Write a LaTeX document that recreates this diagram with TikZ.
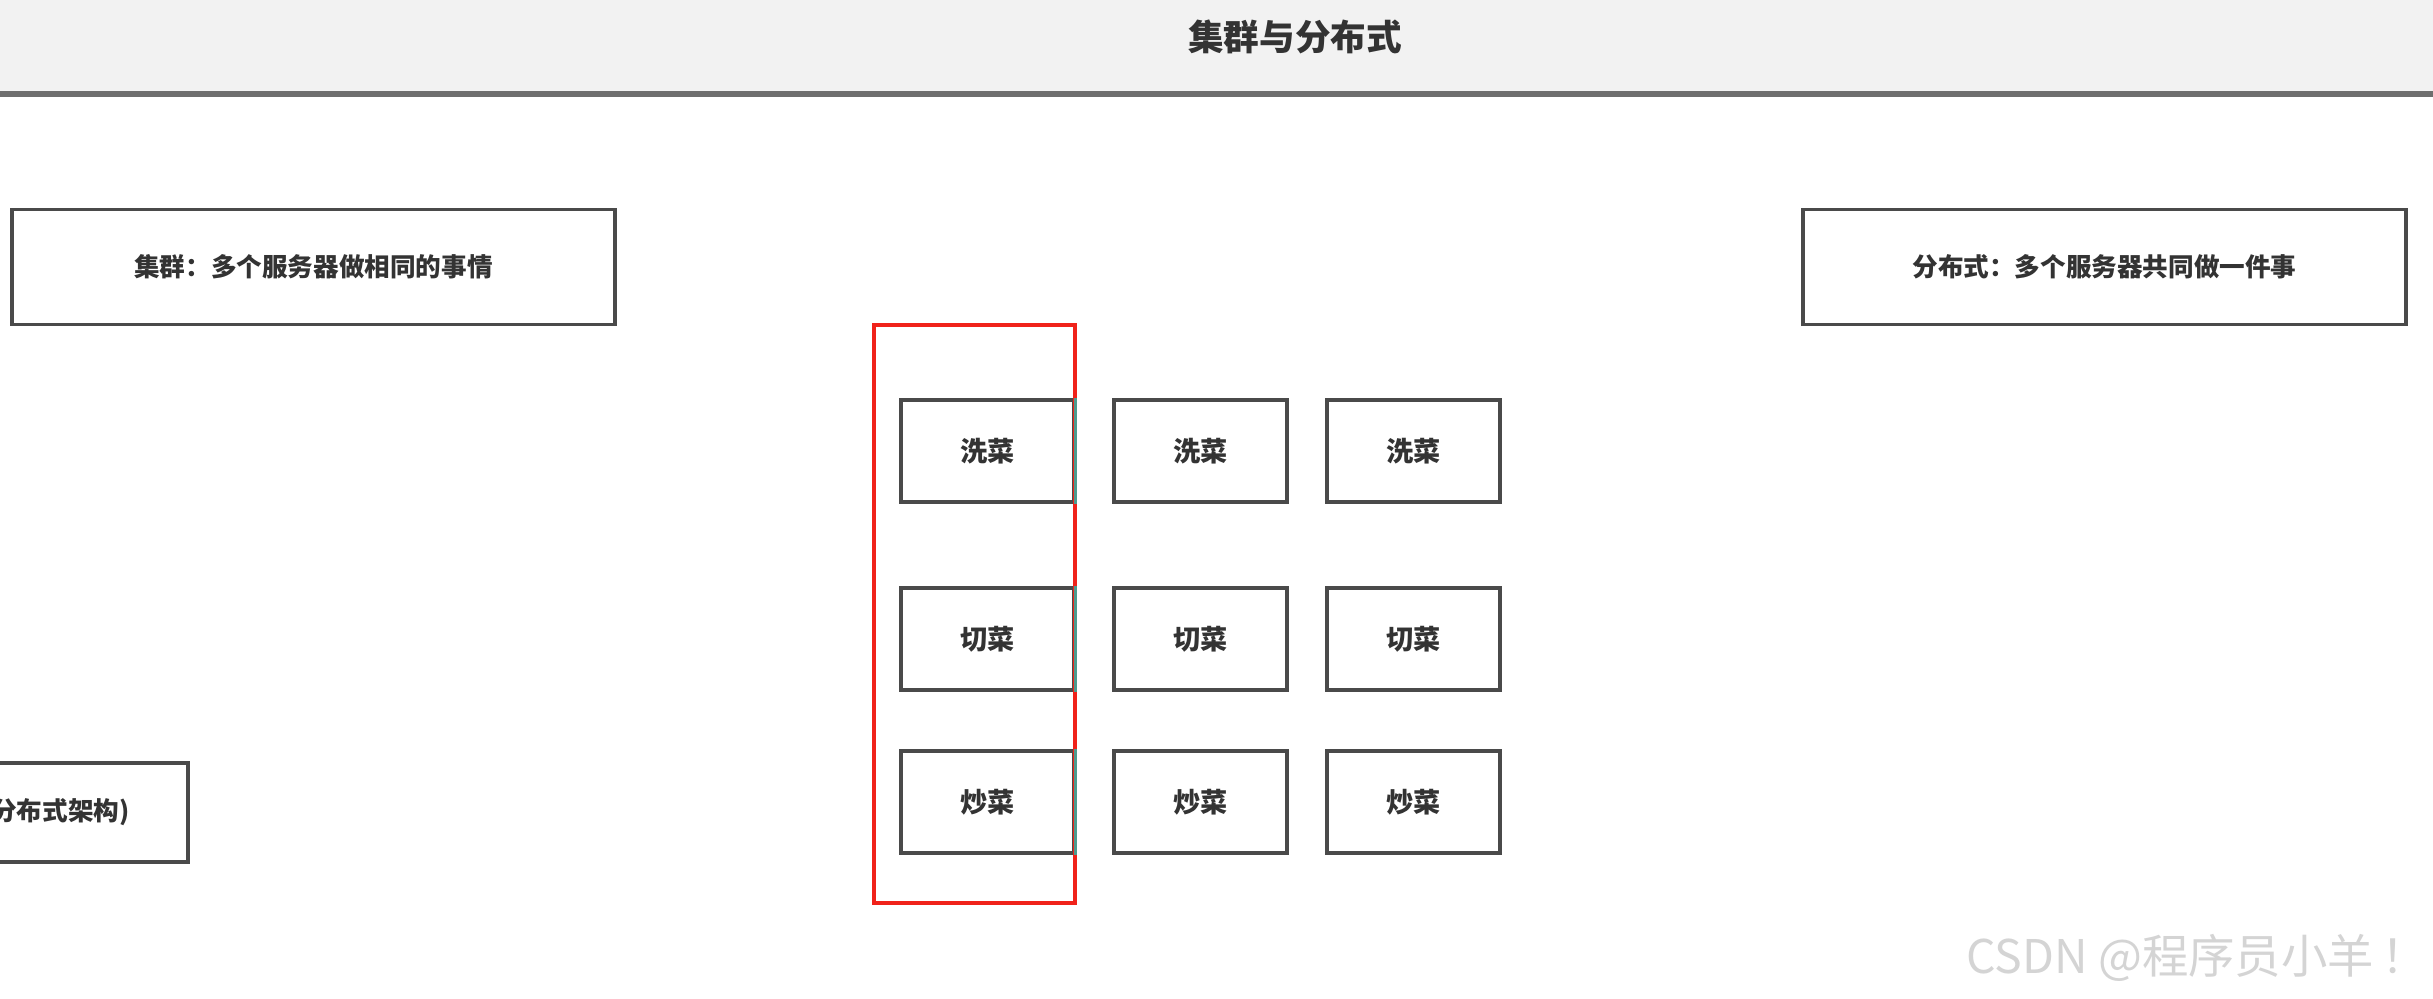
\documentclass[tikz,border=0pt]{standalone}
\usepackage{fontspec}
\newfontfamily\cjk{Noto Sans CJK SC}
\newfontfamily\cjklight{Noto Sans CJK SC}
\definecolor{hdrbg}{HTML}{F2F2F2}
\definecolor{hdrline}{HTML}{6E6E6E}
\definecolor{boxline}{HTML}{4A4A4A}
\definecolor{txt}{HTML}{333333}
\definecolor{redline}{HTML}{F0221A}
\definecolor{tealedge}{HTML}{4E9A8E}
\definecolor{wm}{HTML}{D4D4D4}
\tikzset{
  bigbox/.style={draw=boxline, line width=1.7pt, minimum width=301.5pt, minimum height=57.5pt, inner sep=0pt,
    font=\cjk\bfseries\fontsize{12.8}{15}\selectfont, text=txt},
  smallbox/.style={draw=boxline, line width=1.7pt, fill=white, minimum width=86.5pt, minimum height=51pt, inner sep=0pt,
    font=\cjk\bfseries\fontsize{13.6}{16}\selectfont, text=txt},
  redframe/.style={draw=redline, line width=2.4pt},
  tealside/.style={draw=tealedge, line width=1.6pt},
}
\begin{document}
\begin{tikzpicture}[x=0.5pt, y=-0.5pt]
\useasboundingbox (0,0) rectangle (2433,999);
\fill[white] (0,0) rectangle (2433,999);
% header
\fill[hdrbg] (0,0) rectangle (2433,92);
\draw[hdrline, line width=2.6pt] (0,94) -- (2433,94);
\node[font=\cjk\bfseries\fontsize{17.8}{20}\selectfont, text=txt] (title) at (1295,37) {集群与分布式};
% definition boxes
\node[bigbox] (cluster) at (313.5,267) {集群：多个服务器做相同的事情};
\node[bigbox] (dist) at (2104.5,267) {分布式：多个服务器共同做一件事};
% bottom-left partial box
\draw[boxline, line width=1.7pt] (-120,763) rectangle (188,862);
\node[anchor=east, inner sep=0pt, font=\cjk\bfseries\fontsize{12.8}{15}\selectfont, text=txt] (arch) at (130,812) {分布式架构)};
% red frame
\draw[redframe] (874,325) rectangle (1075,903);
% grid of small boxes
\node[smallbox] (w1) at (987.5,451) {洗菜};
\node[smallbox] (w2) at (1200.5,451) {洗菜};
\node[smallbox] (w3) at (1413.5,451) {洗菜};
\node[smallbox] (c1) at (987.5,639) {切菜};
\node[smallbox] (c2) at (1200.5,639) {切菜};
\node[smallbox] (c3) at (1413.5,639) {切菜};
\node[smallbox] (f1) at (987.5,802) {炒菜};
\node[smallbox] (f2) at (1200.5,802) {炒菜};
\node[smallbox] (f3) at (1413.5,802) {炒菜};
\draw[redline, line width=2.4pt] (1075,325) -- (1075,903);
\draw[tealside] (w1.north east) -- (w1.south east);
\draw[tealside] (c1.north east) -- (c1.south east);
\draw[tealside] (f1.north east) -- (f1.south east);
% watermark
\node[anchor=west, inner sep=0pt, font=\cjklight\fontsize{23.2}{26}\selectfont, text=wm] (wmark) at (1966,958) {CSDN @程序员小羊\,！};
\end{tikzpicture}
\end{document}
